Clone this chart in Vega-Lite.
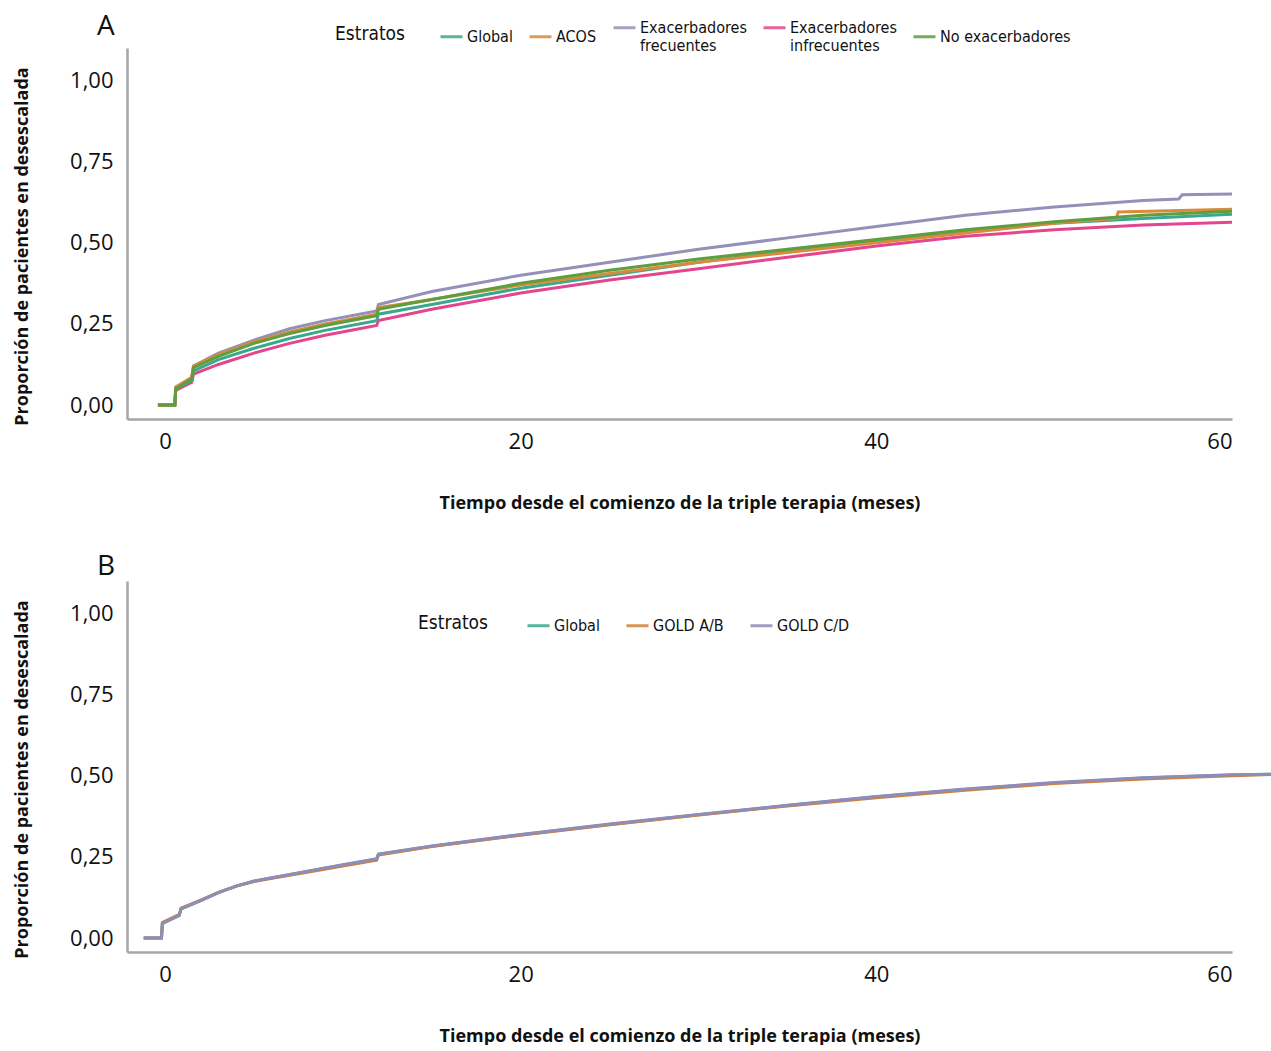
{
  "$schema": "https://vega.github.io/schema/vega-lite/v6.json",
  "padding": {"left": 13, "top": 13, "right": 0, "bottom": 0},
  "background": "white",
  "config": {
    "view": {"stroke": null},
    "font": "Open Sans",
    "axis": {
      "grid": false, "ticks": false,
      "domainColor": "#a6a6a6", "domainWidth": 2.5,
      "labelFont": "Open Sans", "labelFontSize": 22, "labelColor": "#111111",
      "titleFont": "Open Sans", "titleFontSize": 18, "titleFontWeight": "bold", "titleColor": "#111111"
    },
    "legend": {
      "labelFont": "DejaVu Sans Condensed, Roboto Condensed, Roboto", "titleFont": "DejaVu Sans Condensed, Roboto Condensed, Roboto",
      "labelFontSize": 16, "titleFontSize": 19, "titleFontWeight": "normal",
      "labelColor": "#111111", "titleColor": "#111111",
      "symbolType": "stroke", "symbolStrokeWidth": 3, "symbolSize": 484,
      "symbolOpacity": 0.85, "labelBaseline": "middle", "labelOffset": 3,
      "titleAnchor": "middle", "titleBaseline": "middle"
    },
    "title": {"font": "Open Sans", "fontSize": 28, "fontWeight": "normal", "color": "#111111", "anchor": "start", "frame": "group"}
  },
  "spacing": 41,
  "resolve": {"scale": {"color": "independent"}, "legend": {"color": "independent"}},
  "vconcat": [
    {
      "title": {"text": "A", "dx": -30, "offset": -26},
      "width": 1105, "height": 371,
      "data": {"values": [
        {"e":"Exacerbadores infrecuentes","m":-0.4,"p":0},{"e":"Exacerbadores infrecuentes","m":0.55,"p":0},{"e":"Exacerbadores infrecuentes","m":0.6,"p":0.045},{"e":"Exacerbadores infrecuentes","m":1.5,"p":0.07},{"e":"Exacerbadores infrecuentes","m":1.6,"p":0.095},{"e":"Exacerbadores infrecuentes","m":3,"p":0.125},{"e":"Exacerbadores infrecuentes","m":5,"p":0.16},{"e":"Exacerbadores infrecuentes","m":7,"p":0.19},{"e":"Exacerbadores infrecuentes","m":9,"p":0.215},{"e":"Exacerbadores infrecuentes","m":11.9,"p":0.245},{"e":"Exacerbadores infrecuentes","m":12,"p":0.26},{"e":"Exacerbadores infrecuentes","m":15,"p":0.295},{"e":"Exacerbadores infrecuentes","m":20,"p":0.345},{"e":"Exacerbadores infrecuentes","m":25,"p":0.385},{"e":"Exacerbadores infrecuentes","m":30,"p":0.42},{"e":"Exacerbadores infrecuentes","m":35,"p":0.455},{"e":"Exacerbadores infrecuentes","m":40,"p":0.49},{"e":"Exacerbadores infrecuentes","m":45,"p":0.52},{"e":"Exacerbadores infrecuentes","m":50,"p":0.54},{"e":"Exacerbadores infrecuentes","m":55,"p":0.555},{"e":"Exacerbadores infrecuentes","m":60,"p":0.563},

        {"e":"Exacerbadores frecuentes","m":-0.4,"p":0},{"e":"Exacerbadores frecuentes","m":0.55,"p":0},{"e":"Exacerbadores frecuentes","m":0.6,"p":0.055},{"e":"Exacerbadores frecuentes","m":1.5,"p":0.085},{"e":"Exacerbadores frecuentes","m":1.6,"p":0.12},{"e":"Exacerbadores frecuentes","m":3,"p":0.16},{"e":"Exacerbadores frecuentes","m":5,"p":0.2},{"e":"Exacerbadores frecuentes","m":7,"p":0.235},{"e":"Exacerbadores frecuentes","m":9,"p":0.26},{"e":"Exacerbadores frecuentes","m":11.9,"p":0.29},{"e":"Exacerbadores frecuentes","m":12,"p":0.31},{"e":"Exacerbadores frecuentes","m":15,"p":0.35},{"e":"Exacerbadores frecuentes","m":20,"p":0.4},{"e":"Exacerbadores frecuentes","m":25,"p":0.44},{"e":"Exacerbadores frecuentes","m":30,"p":0.48},{"e":"Exacerbadores frecuentes","m":35,"p":0.515},{"e":"Exacerbadores frecuentes","m":40,"p":0.55},{"e":"Exacerbadores frecuentes","m":45,"p":0.585},{"e":"Exacerbadores frecuentes","m":50,"p":0.61},{"e":"Exacerbadores frecuentes","m":55,"p":0.63},{"e":"Exacerbadores frecuentes","m":57,"p":0.635},{"e":"Exacerbadores frecuentes","m":57.2,"p":0.648},{"e":"Exacerbadores frecuentes","m":60,"p":0.65},

        {"e":"Global","m":-0.4,"p":0},{"e":"Global","m":0.55,"p":0},{"e":"Global","m":0.6,"p":0.05},{"e":"Global","m":1.5,"p":0.075},{"e":"Global","m":1.6,"p":0.105},{"e":"Global","m":3,"p":0.14},{"e":"Global","m":5,"p":0.175},{"e":"Global","m":7,"p":0.205},{"e":"Global","m":9,"p":0.23},{"e":"Global","m":11.9,"p":0.26},{"e":"Global","m":12,"p":0.28},{"e":"Global","m":15,"p":0.31},{"e":"Global","m":20,"p":0.36},{"e":"Global","m":25,"p":0.4},{"e":"Global","m":30,"p":0.44},{"e":"Global","m":35,"p":0.475},{"e":"Global","m":40,"p":0.505},{"e":"Global","m":45,"p":0.535},{"e":"Global","m":50,"p":0.56},{"e":"Global","m":55,"p":0.575},{"e":"Global","m":60,"p":0.588},

        {"e":"ACOS","m":-0.4,"p":0},{"e":"ACOS","m":0.55,"p":0},{"e":"ACOS","m":0.6,"p":0.055},{"e":"ACOS","m":1.5,"p":0.085},{"e":"ACOS","m":1.6,"p":0.12},{"e":"ACOS","m":3,"p":0.155},{"e":"ACOS","m":5,"p":0.195},{"e":"ACOS","m":7,"p":0.225},{"e":"ACOS","m":9,"p":0.25},{"e":"ACOS","m":11.9,"p":0.28},{"e":"ACOS","m":12,"p":0.3},{"e":"ACOS","m":15,"p":0.325},{"e":"ACOS","m":20,"p":0.37},{"e":"ACOS","m":25,"p":0.405},{"e":"ACOS","m":30,"p":0.44},{"e":"ACOS","m":35,"p":0.47},{"e":"ACOS","m":40,"p":0.5},{"e":"ACOS","m":45,"p":0.53},{"e":"ACOS","m":50,"p":0.56},{"e":"ACOS","m":53.5,"p":0.575},{"e":"ACOS","m":53.6,"p":0.595},{"e":"ACOS","m":60,"p":0.603},

        {"e":"No exacerbadores","m":-0.4,"p":0},{"e":"No exacerbadores","m":0.55,"p":0},{"e":"No exacerbadores","m":0.6,"p":0.05},{"e":"No exacerbadores","m":1.5,"p":0.08},{"e":"No exacerbadores","m":1.6,"p":0.115},{"e":"No exacerbadores","m":3,"p":0.15},{"e":"No exacerbadores","m":5,"p":0.19},{"e":"No exacerbadores","m":7,"p":0.22},{"e":"No exacerbadores","m":9,"p":0.245},{"e":"No exacerbadores","m":11.9,"p":0.275},{"e":"No exacerbadores","m":12,"p":0.295},{"e":"No exacerbadores","m":15,"p":0.325},{"e":"No exacerbadores","m":20,"p":0.375},{"e":"No exacerbadores","m":25,"p":0.415},{"e":"No exacerbadores","m":30,"p":0.45},{"e":"No exacerbadores","m":35,"p":0.48},{"e":"No exacerbadores","m":40,"p":0.51},{"e":"No exacerbadores","m":45,"p":0.54},{"e":"No exacerbadores","m":50,"p":0.565},{"e":"No exacerbadores","m":55,"p":0.585},{"e":"No exacerbadores","m":60,"p":0.597}
      ]},
      "mark": {"type": "line", "strokeWidth": 3, "interpolate": "linear"},
      "encoding": {
        "x": {"field": "m", "type": "quantitative",
              "scale": {"domain": [-2.14, 60], "nice": false, "zero": false},
              "axis": {"values": [0, 20, 40, 60], "labelPadding": 12, "titlePadding": 42,
                       "title": "Tiempo desde el comienzo de la triple terapia (meses)"}},
        "y": {"field": "p", "type": "quantitative",
              "scale": {"domain": [-0.043, 1.1], "nice": false, "zero": false},
              "axis": {"values": [0, 0.25, 0.5, 0.75, 1], "labelPadding": 14, "titlePadding": 38, "titleY": 198,
                       "labelExpr": "replace(format(datum.value, '.2f'), '.', ',')",
                       "title": "Proporción de pacientes en desescalada"}},
        "color": {"field": "e", "type": "nominal",
                  "scale": {"domain": ["Global", "ACOS", "Exacerbadores frecuentes", "Exacerbadores infrecuentes", "No exacerbadores"],
                            "range": ["#3aa88e", "#d98a3c", "#9391b9", "#e4458e", "#5e9e3e"]},
                  "legend": {"orient": "none", "legendX": 208, "legendY": -33, "direction": "horizontal",
                             "title": "Estratos", "titleOrient": "left", "titlePadding": 34, "columnPadding": 10,
                             "labelExpr": "datum.label == 'Exacerbadores frecuentes' ? ['Exacerbadores', 'frecuentes'] : datum.label == 'Exacerbadores infrecuentes' ? ['Exacerbadores', 'infrecuentes'] : datum.label"}}
      }
    },
    {
      "title": {"text": "B", "dx": -30, "offset": 0},
      "width": 1105, "height": 371,
      "data": {"values": [
        {"e":"Global","m":-1.2,"p":0},{"e":"Global","m":-0.2,"p":0},{"e":"Global","m":-0.15,"p":0.045},{"e":"Global","m":0.8,"p":0.07},{"e":"Global","m":0.9,"p":0.09},{"e":"Global","m":2,"p":0.115},{"e":"Global","m":3,"p":0.14},{"e":"Global","m":4,"p":0.16},{"e":"Global","m":5,"p":0.175},{"e":"Global","m":6,"p":0.185},{"e":"Global","m":8,"p":0.205},{"e":"Global","m":10,"p":0.225},{"e":"Global","m":11.9,"p":0.243},{"e":"Global","m":12,"p":0.258},{"e":"Global","m":15,"p":0.283},{"e":"Global","m":20,"p":0.318},{"e":"Global","m":25,"p":0.35},{"e":"Global","m":30,"p":0.38},{"e":"Global","m":35,"p":0.408},{"e":"Global","m":40,"p":0.435},{"e":"Global","m":45,"p":0.458},{"e":"Global","m":50,"p":0.478},{"e":"Global","m":55,"p":0.493},{"e":"Global","m":60,"p":0.502},{"e":"Global","m":62.2,"p":0.505},

        {"e":"GOLD A/B","m":-1.2,"p":0},{"e":"GOLD A/B","m":-0.2,"p":0},{"e":"GOLD A/B","m":-0.15,"p":0.048},{"e":"GOLD A/B","m":0.8,"p":0.073},{"e":"GOLD A/B","m":0.9,"p":0.092},{"e":"GOLD A/B","m":2,"p":0.117},{"e":"GOLD A/B","m":3,"p":0.141},{"e":"GOLD A/B","m":4,"p":0.16},{"e":"GOLD A/B","m":5,"p":0.174},{"e":"GOLD A/B","m":6,"p":0.184},{"e":"GOLD A/B","m":8,"p":0.203},{"e":"GOLD A/B","m":10,"p":0.222},{"e":"GOLD A/B","m":11.9,"p":0.24},{"e":"GOLD A/B","m":12,"p":0.256},{"e":"GOLD A/B","m":15,"p":0.282},{"e":"GOLD A/B","m":20,"p":0.317},{"e":"GOLD A/B","m":25,"p":0.349},{"e":"GOLD A/B","m":30,"p":0.379},{"e":"GOLD A/B","m":35,"p":0.407},{"e":"GOLD A/B","m":40,"p":0.432},{"e":"GOLD A/B","m":45,"p":0.455},{"e":"GOLD A/B","m":50,"p":0.476},{"e":"GOLD A/B","m":55,"p":0.49},{"e":"GOLD A/B","m":60,"p":0.5},{"e":"GOLD A/B","m":62.2,"p":0.504},

        {"e":"GOLD C/D","m":-1.2,"p":0},{"e":"GOLD C/D","m":-0.2,"p":0},{"e":"GOLD C/D","m":-0.15,"p":0.045},{"e":"GOLD C/D","m":0.8,"p":0.07},{"e":"GOLD C/D","m":0.9,"p":0.09},{"e":"GOLD C/D","m":2,"p":0.115},{"e":"GOLD C/D","m":3,"p":0.14},{"e":"GOLD C/D","m":4,"p":0.16},{"e":"GOLD C/D","m":5,"p":0.176},{"e":"GOLD C/D","m":6,"p":0.186},{"e":"GOLD C/D","m":8,"p":0.206},{"e":"GOLD C/D","m":10,"p":0.226},{"e":"GOLD C/D","m":11.9,"p":0.244},{"e":"GOLD C/D","m":12,"p":0.259},{"e":"GOLD C/D","m":15,"p":0.284},{"e":"GOLD C/D","m":20,"p":0.319},{"e":"GOLD C/D","m":25,"p":0.351},{"e":"GOLD C/D","m":30,"p":0.381},{"e":"GOLD C/D","m":35,"p":0.409},{"e":"GOLD C/D","m":40,"p":0.436},{"e":"GOLD C/D","m":45,"p":0.459},{"e":"GOLD C/D","m":50,"p":0.479},{"e":"GOLD C/D","m":55,"p":0.494},{"e":"GOLD C/D","m":60,"p":0.503},{"e":"GOLD C/D","m":62.2,"p":0.505}
      ]},
      "mark": {"type": "line", "strokeWidth": 3, "interpolate": "linear"},
      "encoding": {
        "x": {"field": "m", "type": "quantitative",
              "scale": {"domain": [-2.14, 60], "nice": false, "zero": false},
              "axis": {"values": [0, 20, 40, 60], "labelPadding": 12, "titlePadding": 42,
                       "title": "Tiempo desde el comienzo de la triple terapia (meses)"}},
        "y": {"field": "p", "type": "quantitative",
              "scale": {"domain": [-0.043, 1.1], "nice": false, "zero": false},
              "axis": {"values": [0, 0.25, 0.5, 0.75, 1], "labelPadding": 14, "titlePadding": 38, "titleY": 198,
                       "labelExpr": "replace(format(datum.value, '.2f'), '.', ',')",
                       "title": "Proporción de pacientes en desescalada"}},
        "color": {"field": "e", "type": "nominal",
                  "scale": {"domain": ["Global", "GOLD A/B", "GOLD C/D"],
                            "range": ["#3aa88e", "#d0803a", "#8f8db8"]},
                  "legend": {"orient": "none", "legendX": 291, "legendY": 32, "direction": "horizontal",
                             "title": "Estratos", "titleOrient": "left", "titlePadding": 38, "columnPadding": 20}}
      }
    }
  ]
}
